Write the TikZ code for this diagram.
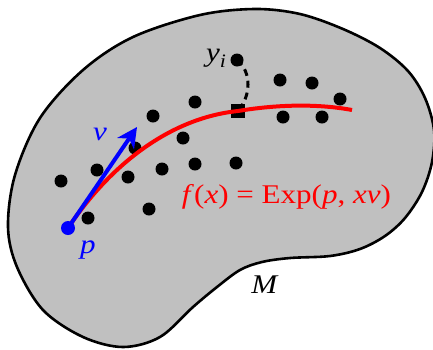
\documentclass[tikz,border=0pt]{standalone}
\usepackage{fontspec}
\setmainfont{Liberation Serif}
\usetikzlibrary{arrows.meta}
\begin{document}
\begin{tikzpicture}[x=1pt,y=-1pt,
  dot/.style={circle,fill=black,inner sep=0pt,minimum size=13pt},
  lbl/.style={inner sep=0pt,anchor=base,font=\fontsize{27}{30}\selectfont},
  blob/.style={draw=black,fill={rgb,255:red,192;green,192;blue,192},line width=2.6pt}]
\useasboundingbox (0,0) rectangle (433,349);
\draw[blob] plot[smooth cycle,tension=0.55] coordinates {
 (8,227) (15,175) (40,118) (83,70) (133,37) (200,15) (255,9) (300,14) (343,29) (380,48) (408,71) (425,98) (434,130) (432,162) (422,192) (405,218) (385,236) (360,249) (330,256) (290,258) (262,262) (240,270) (217,287) (193,307) (160,337) (123,347) (83,337) (43,310) (17,267)};
% data points
\node[dot] (y) at (237,60) {};
\node[dot] (d1) at (280,80) {};
\node[dot] (d2) at (312,83) {};
\node[dot] (d3) at (340,99) {};
\node[dot] (d4) at (283,117) {};
\node[dot] (d5) at (322,117) {};
\node[dot] (d6) at (195,102) {};
\node[dot] (d7) at (153,116) {};
\node[dot] (d8) at (183,138) {};
\node[dot] (d9) at (135,148) {};
\node[dot] (d10) at (97,170) {};
\node[dot] (d11) at (128,177) {};
\node[dot] (d12) at (162,169) {};
\node[dot] (d13) at (195,164) {};
\node[dot] (d14) at (236,163) {};
\node[dot] (d15) at (61,181) {};
\node[dot] (d16) at (88,218) {};
\node[dot] (d17) at (149,209) {};
% projection square
\node[fill=black,inner sep=0pt,minimum size=14pt] (sq) at (238,111) {};
\draw[black,line width=3pt,dash pattern=on 7pt off 5pt] (y.center) .. controls (252,72) and (251,96) .. (sq.center);
% base point
\coordinate (p) at (68,228);
\coordinate (vtip) at (137,127);
\coordinate (fend) at (352,110);
\draw[red,line width=4pt] (p) .. controls (110,165) and (170,118) .. (sq.center) .. controls (280,104) and (320,104) .. (fend);
\draw[blue,line width=4pt,-{Stealth[length=20pt,width=20pt,inset=6pt]}] (p) -- (vtip);
\fill[blue] (p) circle (7pt);
% labels
\node[lbl,red] (flbl) at (286.5,203) {\scalebox{1.15}[1]{\textit{f}(\textit{x}) = Exp(\textit{p}, \textit{xv})}};
\node[lbl] (mlbl) at (265,293) {\scalebox{1.15}[1]{\textit{M}}};
\node[lbl] (ylbl) at (216,61) {\scalebox{1.15}[1]{\textit{y}\raisebox{-6pt}{\fontsize{19}{20}\selectfont\textit{i}}}};
\node[lbl,blue] (vlbl) at (100,140) {\scalebox{1.15}[1]{\textit{v}}};
\node[lbl,blue] (plbl) at (88,253) {\scalebox{1.15}[1]{\textit{p}}};
\end{tikzpicture}
\end{document}
